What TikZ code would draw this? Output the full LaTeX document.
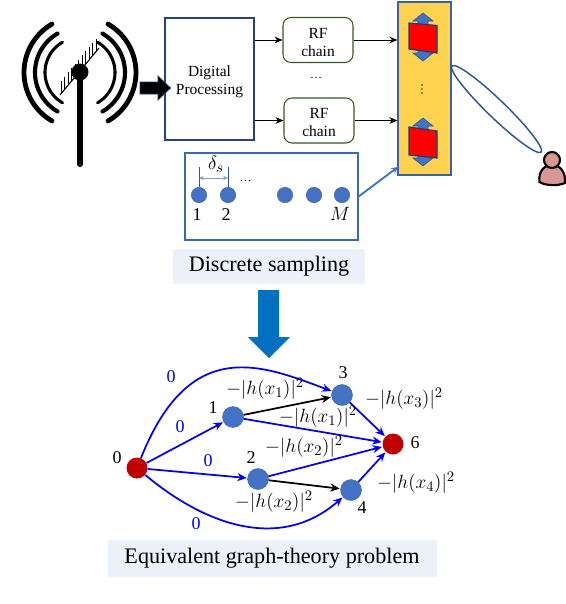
\documentclass[tikz,border=0pt]{standalone}
\usepackage{fontspec}
\setmainfont{Liberation Serif}
\usetikzlibrary{arrows.meta,shapes.geometric}
\definecolor{panelblue}{HTML}{ECF0F9}
\definecolor{dotblue}{HTML}{4472C4}
\definecolor{boxblue}{HTML}{2F5597}
\definecolor{chaingreen}{HTML}{385723}
\definecolor{railyellow}{HTML}{FFD34F}
\definecolor{bigblue}{HTML}{0070C0}
\definecolor{nodered}{HTML}{C00000}
\definecolor{edgeblue}{HTML}{0000F0}
\definecolor{skin}{HTML}{D99694}
\tikzset{
  sq/.style 2 args={minimum width=#1*0.75pt,minimum height=#2*0.75pt,inner sep=0pt},
  rfbox/.style={draw=chaingreen,line width=0.8pt,rounded corners=6pt,fill=white,sq={70}{45},font=\fontsize{11.6}{13.5}\selectfont,align=center},
  panel/.style={fill=panelblue,inner sep=0pt,font=\fontsize{16.6}{19}\selectfont},
  thin arrow/.style={-{Stealth[length=6pt,width=5pt]},line width=0.6pt,black},
  sample/.style={circle,fill=dotblue,draw=dotblue!80!black,line width=0.3pt,minimum size=15.5*0.75pt,inner sep=0pt},
  vertexb/.style={circle,fill=dotblue,draw=dotblue!85!black,line width=0.3pt,minimum size=21*0.75pt,inner sep=0pt},
  vertexr/.style={circle,fill=nodered,minimum size=21*0.75pt,inner sep=0pt},
  edgeb/.style={-{Stealth[length=7pt,width=6pt]},line width=1.3pt,edgeblue,shorten >=0.5pt},
  edgek/.style={-{Stealth[length=7pt,width=6pt]},line width=1.3pt,black,shorten >=0.5pt},
  lab/.style={inner sep=0pt,font=\fontsize{15.5}{17}\selectfont},
  zero/.style={inner sep=0pt,font=\fontsize{13.5}{15}\selectfont,text=edgeblue},
  num/.style={inner sep=0pt,font=\fontsize{13.5}{15}\selectfont},
  wave/.style={line width=#1,line cap=round,black},
  redface/.style={fill=red,draw=boxblue!70!black,line width=0.9pt},
  slider/.style={fill=dotblue,draw=boxblue,line width=0.5pt},
}
\begin{document}
\begin{tikzpicture}[x=0.75pt,y=-0.75pt]
\useasboundingbox (0,0) rectangle (566,604);
% antenna
\foreach \r/\w in {56/3.6pt,45/3.1pt,35/2.3pt}{
  \draw[wave=\w] plot[domain=-60:60,samples=30,smooth] ({80+\r*cos(\x)},{72.5+\r*sin(\x)});
  \draw[wave=\w] plot[domain=120:240,samples=30,smooth] ({80+\r*cos(\x)},{72.5+\r*sin(\x)});
}
\draw[line width=0.8pt] (60,95) -- (99,48);
\foreach \x in {61,64.5,...,99}{
  \draw[line width=0.7pt] (\x,{95-(\x-60)*47/39}) -- ++(0,-13);
}
\draw[line width=4.6pt,line cap=round] (80,72) -- (80,164);
\fill (80,72) circle[radius=8.5];
% boxes
\node[draw=boxblue!80!black,line width=0.9pt,fill=white,sq={89}{122},font=\fontsize{11.6}{13.5}\selectfont,align=center] (dp) at (209.5,79) {\rule{0pt}{12.5pt}Digital\\Processing};
% feed arrow
\draw[fill=black,draw=boxblue!70!black,line width=0.6pt] (140,82) -- (158,82) -- (158,76) -- (170.5,88) -- (158,100) -- (158,94) -- (140,94) -- cycle;
\node[rfbox] (rfa) at (318,40) {\rule{0pt}{11pt}RF\\chain};
\node[rfbox] (rfb) at (319,120.5) {\rule{0pt}{11pt}RF\\chain};
\node[sq={53}{173},fill=railyellow,draw=dotblue!85!black,line width=0.9pt] (rail) at (424.5,88.5) {};
\node[draw=dotblue!90!black,line width=0.9pt,fill=white,sq={173}{87}] (sbox) at (271.5,196.5) {};
\draw[thin arrow] (dp.east |- rfa.west) -- (rfa.west);
\draw[thin arrow] (dp.east |- rfb.west) -- (rfb.west);
\draw[thin arrow] (rfa.east) -- (rfa.east -| rail.west);
\draw[thin arrow] (rfb.east) -- (rfb.east -| rail.west);
\node[inner sep=0pt,font=\fontsize{9}{11}\selectfont] (da) at (316,78) {\dots};
% rail elements
\foreach \yo in {0,105}{
  \begin{scope}[shift={(0,\yo)}]
  \draw[slider] (423,13) -- (433,21) -- (428,21) -- (428,53) -- (433,53) -- (423,61) -- (413,53) -- (418,53) -- (418,21) -- (413,21) -- cycle;
  \end{scope}
}
\draw[redface] (409,23) -- (437,25.5) -- (437,53) -- (409,49) -- cycle;
\draw[redface] (409,127) -- (437,131) -- (437,158) -- (409,155) -- cycle;
\node[inner sep=0pt,font=\fontsize{9}{9}\selectfont,rotate=90] (db) at (422,89) {\dots};
% beam and user
\node[ellipse,draw=boxblue,line width=1.1pt,minimum width=124*0.75pt,minimum height=18*0.75pt,inner sep=0pt,rotate=-44] (beam) at (496.5,109) {};
\draw[fill=skin,draw=black,line width=1.6pt] (539.5,182) .. controls (538,172) and (544,165) .. (552,165) .. controls (560,165) and (566,172) .. (565,183) .. controls (558,186) and (546,186) .. (539.5,182) -- cycle;
\node[circle,fill=skin,draw=black,line width=1.6pt,minimum size=16*0.75pt,inner sep=0pt] (user) at (552,160) {};
% samples
\node[sample] (s1) at (199,195) {};
\node[sample] (s2) at (228,195) {};
\node[sample] (s3) at (285,195) {};
\node[sample] (s4) at (314,195) {};
\node[sample] (s5) at (342,195) {};
\node[num] (l1) at (197,215) {1};
\node[num] (l2) at (226,215) {2};
\node[num] (lm) at (340,214) {$M$};
\node[inner sep=0pt,font=\fontsize{9}{11}\selectfont] (ld) at (245.5,181) {\dots};
\node[inner sep=0pt,font=\fontsize{15}{17}\selectfont] (dl) at (216,164.5) {$\delta_s$};
\coordinate (ta) at (199,167);
\coordinate (tb) at (228,167);
\draw[boxblue,line width=0.5pt] (ta) -- (s1.north);
\draw[boxblue,line width=0.5pt] (tb) -- (s2.north);
\draw[{Stealth[length=3.5pt,width=3pt]}-{Stealth[length=3.5pt,width=3pt]},dotblue!70,line width=0.5pt] (199,178) -- (228,178);
\coordinate (railin) at (398,167);
\draw[-{Stealth[length=5pt,width=5pt]},dotblue,line width=1.4pt] (sbox.east) -- (railin);
% panels and big arrow
\node[panel,sq={192}{35}] (ds) at (269,266.5) {Discrete sampling};
\fill[bigblue] (258,290) -- (279,290) -- (279,337) -- (290,337) -- (269,358) -- (248,337) -- (258,337) -- cycle;
\node[panel,sq={329}{37}] (eq) at (272,558.5) {Equivalent graph-theory problem};
% graph
\node[vertexr] (n0) at (137,468) {};
\node[vertexb] (n1) at (233,417) {};
\node[vertexb] (n3) at (342,395) {};
\node[vertexb] (n2) at (258,479) {};
\node[vertexb] (n4) at (351,490) {};
\node[vertexr] (n6) at (393,444) {};
\draw[edgeb] (n0) .. controls (190,335) and (262,365) .. (n3);
\draw[edgeb] (n0) .. controls (205,525) and (280,552) .. (n4);
\draw[edgeb] (n0) -- (n1);
\draw[edgeb] (n0) -- (n2);
\draw[edgek] (n1) -- (n3);
\draw[edgek] (n2) -- (n4);
\draw[edgeb] (n1) -- (n6);
\draw[edgeb] (n2) -- (n6);
\draw[edgeb] (n3) -- (n6);
\draw[edgeb] (n4) -- (n6);
\node[zero] (z1) at (171,377) {0};
\node[zero] (z2) at (180,427) {0};
\node[zero] (z3) at (208,461) {0};
\node[zero] (z4) at (196,524) {0};
\node[num] (t0) at (117,458) {0};
\node[num] (t1) at (213,408) {1};
\node[num] (t2) at (251,458) {2};
\node[num] (t3) at (343,373) {3};
\node[num] (t4) at (362,508) {4};
\node[num] (t6) at (415,443) {6};
\node[lab] (w1) at (265,389) {$-|h(x_1)|^2$};
\node[lab] (w2) at (318,417) {$-|h(x_1)|^2$};
\node[lab] (w3) at (304,447) {$-|h(x_2)|^2$};
\node[lab] (w4) at (274,502) {$-|h(x_2)|^2$};
\node[lab] (w5) at (404,399) {$-|h(x_3)|^2$};
\node[lab] (w6) at (416,483) {$-|h(x_4)|^2$};
\end{tikzpicture}
\end{document}
